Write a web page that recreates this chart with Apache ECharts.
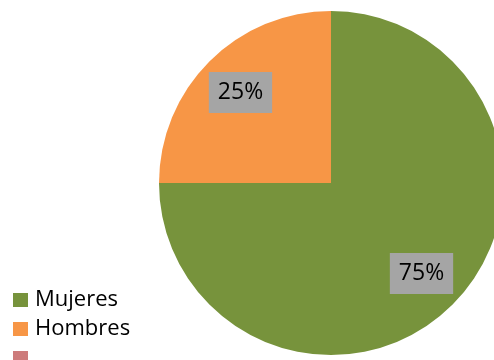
<!DOCTYPE html>
<html><head><meta charset="utf-8">
<script src="https://cdn.jsdelivr.net/npm/echarts@6/dist/echarts.min.js"></script>
<style>html,body{margin:0;padding:0;background:#fff}#c{width:494px;height:360px}</style>
</head><body><div id="c"></div>
<script>
const categories = ['Mujeres', 'Hombres', ' '];
const values = [75, 25, 0];
const colors = ['#77933C', '#F79646', '#CD7B7B'];

const chart = echarts.init(document.getElementById('c'), null, {renderer: 'canvas'});
const pieData = categories.map((n, i) => ({name: n, value: values[i], itemStyle: {color: colors[i]}}));
chart.setOption({
  animation: false,
  legend: {
    orient: 'vertical', left: 13, top: 289, height: 120, padding: 0,
    itemWidth: 15, itemHeight: 14, itemGap: 7,
    icon: 'rect',
    textStyle: {fontFamily: 'Open Sans', fontSize: 22, lineHeight: 22, color: '#000', padding: [0, 0, 0, 2]},
    data: categories
  },
  series: [{
    type: 'pie', center: [331, 183], radius: [0, 172],
    startAngle: 90, clockwise: true,
    label: {show: false}, labelLine: {show: false},
    emphasis: {disabled: true},
    data: pieData
  }, {
    type: 'pie', center: [331, 183], radius: [78, 172],
    startAngle: 90, clockwise: true, silent: true,
    itemStyle: {color: 'transparent'},
    label: {
      show: true, position: 'inside',
      formatter: p => p.percent + '%',
      fontFamily: 'Open Sans', fontSize: 23, color: '#000',
      backgroundColor: '#A5A5A5', padding: [10, 9, 8, 9]
    },
    labelLine: {show: false},
    emphasis: {disabled: true},
    data: categories.map((n, i) => ({name: n, value: values[i], label: {show: values[i] > 0}}))
  }]
});
</script></body></html>
